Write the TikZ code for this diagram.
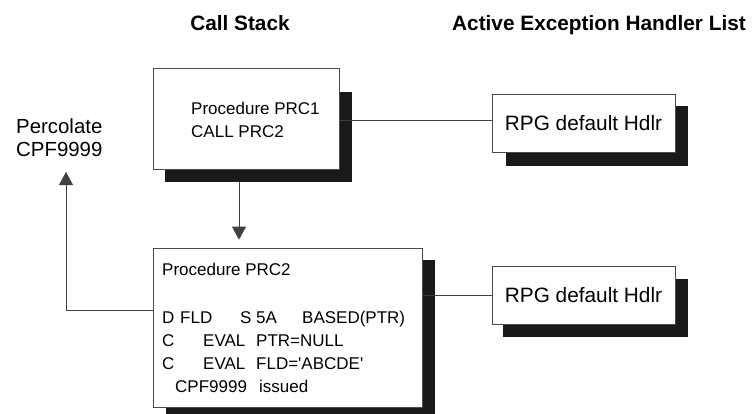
\documentclass[tikz,border=0pt]{standalone}
\usepackage{fontspec}
\setmainfont{Liberation Sans}
\usetikzlibrary{arrows.meta,calc,backgrounds}

\tikzset{
  procbox/.style = {draw = black!70, line width = 0.8pt, fill = white, inner sep = 0pt},
  hdlrbox/.style = {procbox, minimum width = 183pt, minimum height = 58pt,
                    font = \fontsize{20.8}{24}\selectfont},
  link/.style = {draw = black!75, line width = 0.8pt},
  arr/.style = {link, -{Triangle[width = 14pt, length = 13pt]}},
  head/.style = {inner sep = 0pt, font = \fontsize{20.8}{24}\selectfont\bfseries},
  codeline/.style = {anchor = base west, inner sep = 0pt, font = \fontsize{17}{20}\selectfont},
  note/.style = {anchor = base west, inner sep = 0pt, font = \fontsize{20.4}{24}\selectfont},
}
% shadow: left/top offset given, right/bottom fixed
\newcommand{\boxshadow}[3]{%
  \fill [black!90] ($(#1.north west) + (#2, #3)$) rectangle ($(#1.south east) + (13, 13)$);}

\begin{document}
\begin{tikzpicture}[x = 1pt, y = -1pt]
  \useasboundingbox (0, 0) rectangle (753, 413);

  % headings
  \node [head, anchor = base] (stackhead) at (240, 30) {Call Stack};
  \node [head, anchor = base west] (listhead) at (452, 30) {Active Exception Handler List};

  % call stack
  \node [procbox, minimum width = 186pt, minimum height = 101pt] (prcone) at (246, 118.5) {};
  \node [procbox, minimum width = 269pt, minimum height = 159pt] (prctwo) at (287.5, 327.5) {};

  \node [codeline] (procone) at (191, 114) {Procedure PRC1};
  \node [codeline] (callone) at (191, 137) {CALL PRC2};

  \node [codeline] (proctwo) at (162, 275) {Procedure PRC2};
  \node [codeline] (dline) at (162, 323)
    {\makebox[18pt][l]{D}\makebox[60pt][l]{FLD}\makebox[16pt][l]{S}\makebox[46pt][l]{5A}BASED(PTR)};
  \node [codeline] (cline) at (162, 346)
    {\makebox[41pt][l]{C}\makebox[53pt][l]{EVAL}PTR=NULL};
  \node [codeline] (ctwoline) at (162, 369)
    {\makebox[41pt][l]{C}\makebox[53pt][l]{EVAL}FLD=\textquotesingle ABCDE\textquotesingle};
  \node [codeline] (issline) at (175, 392) {\makebox[84pt][l]{CPF9999}issued};

  % handlers
  \node [hdlrbox] (hdlrone) at (583.5, 123.5) {RPG default Hdlr};
  \node [hdlrbox] (hdlrtwo) at (583.5, 295) {RPG default Hdlr};

  \begin{scope}[on background layer]
    \boxshadow{prcone}{12}{24}
    \boxshadow{prctwo}{13}{12}
    \boxshadow{hdlrone}{14}{12}
    \boxshadow{hdlrtwo}{11}{13}
  \end{scope}

  % percolate
  \node [note] (percone) at (16, 133) {Percolate};
  \node [note] (perctwo) at (16, 156) {CPF9999};
  \coordinate (perctip) at (66, 172);
  \coordinate (callfoot) at (239, 182);

  \draw [arr, shorten >= 8pt] (callfoot) -- (callfoot |- prctwo.north);
  \draw [arr] ([yshift = 17.5pt]prctwo.west) -| (perctip);
  \draw [link] ([yshift = -2pt]prcone.east) -- ([yshift = -2pt]prcone.east -| hdlrone.west);
  \draw [link] (hdlrtwo.west) -- (hdlrtwo.west -| prctwo.east);
\end{tikzpicture}
\end{document}
